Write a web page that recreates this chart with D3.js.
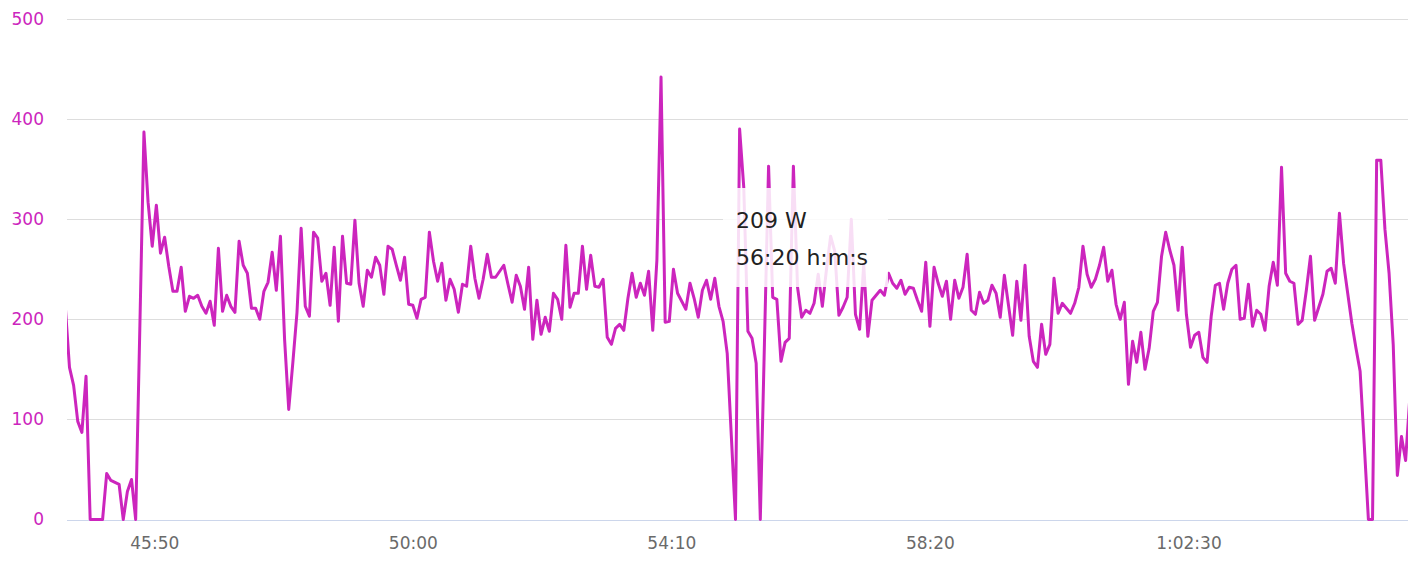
<!DOCTYPE html>
<html>
<head>
<meta charset="utf-8">
<script src="https://cdn.jsdelivr.net/npm/d3@7/dist/d3.min.js"></script>
<style>
  html, body { margin: 0; padding: 0; background: #ffffff; }
  svg { display: block; }
</style>
</head>
<body>
<div id="chart"></div>
<script>
// ---- data ----
const startSeconds = 2664;      // time of first sample (s)
const stepSeconds = 4;          // sample interval (s)
const powerWatts = [
  212, 152, 134, 98, 87, 143, 0, 0, 0, 0,
  46, 39, 37, 35, 0, 28, 40, 0, 190, 387,
  317, 273, 314, 266, 282, 253, 228, 228, 252, 208,
  223, 221, 224, 213, 206, 218, 194, 271, 208, 224,
  213, 207, 278, 254, 246, 211, 211, 200, 228, 237,
  267, 229, 283, 180, 110, 157, 207, 291, 213, 203,
  287, 281, 238, 246, 214, 272, 198, 283, 236, 235,
  299, 236, 213, 249, 242, 262, 254, 225, 273, 270,
  254, 239, 262, 215, 214, 201, 220, 222, 287, 258,
  238, 256, 219, 240, 230, 207, 235, 233, 273, 241,
  221, 240, 265, 242, 242, 248, 254, 235, 217, 244,
  233, 210, 252, 180, 219, 185, 202, 188, 226, 220,
  200, 274, 212, 226, 226, 273, 230, 264, 233, 232,
  240, 182, 175, 191, 195, 189, 221, 246, 222, 236,
  224, 248, 189, 259, 442, 197, 198, 250, 226, 218,
  210, 236, 221, 202, 229, 239, 220, 241, 213, 198,
  166, 83, 0, 390, 332, 188, 181, 156, 0, 176,
  353, 222, 220, 158, 177, 181, 353, 232, 202, 209,
  206, 216, 245, 213, 250, 283, 268, 204, 212, 222,
  300, 205, 190, 255, 183, 219, 224, 229, 224, 246,
  236, 231, 239, 225, 232, 231, 219, 208, 257, 193,
  252, 236, 223, 238, 200, 239, 221, 232, 265, 209,
  205, 227, 216, 219, 234, 226, 202, 244, 214, 184,
  238, 199, 254, 183, 158, 152, 195, 165, 175, 241,
  206, 216, 211, 206, 216, 232, 273, 245, 232, 240,
  254, 272, 238, 249, 215, 200, 217, 135, 178, 157,
  187, 150, 171, 208, 217, 263, 287, 269, 254, 209,
  272, 205, 172, 184, 187, 162, 157, 203, 234, 236,
  210, 236, 250, 254, 200, 201, 235, 193, 209, 205,
  189, 233, 257, 234, 352, 246, 238, 236, 195, 199,
  229, 263, 199, 212, 225, 248, 251, 236, 306, 256,
  226, 196, 171, 148, 75, 0, 0, 359, 359, 290,
  246, 175, 44, 83, 59, 121
];
const xTickSeconds = [2750, 3000, 3250, 3500, 3750];
const xTickLabels = ["45:50", "50:00", "54:10", "58:20", "1:02:30"];
const yTickValues = [0, 100, 200, 300, 400, 500];
const hoverSeconds = 3380;      // point shown in tooltip
const unitLabel = "W";
const timeUnitLabel = "h:m:s";

// ---- layout ----
const W = 1408, H = 566;
const plotLeft = 67, plotRight = 1408, plotTop = 19, plotBottom = 519.5;
const lineColor = "#cc25bd";
const fontFamily = "'DejaVu Sans', Verdana, sans-serif";

const points = powerWatts.map((v, i) => ({ t: startSeconds + i * stepSeconds, v }));

const x = d3.scaleLinear().domain([2665.6, 3962.3]).range([plotLeft, plotRight]);
const y = d3.scaleLinear().domain([0, 500]).range([plotBottom, plotTop]);

const svg = d3.select("#chart").append("svg")
  .attr("width", W).attr("height", H)
  .attr("viewBox", `0 0 ${W} ${H}`);

// grid lines
const yAxis = d3.axisLeft(y).tickValues(yTickValues).tickSize(-(plotRight - plotLeft)).tickPadding(23);
const gy = svg.append("g").attr("transform", `translate(${plotLeft},0)`).call(yAxis);
gy.select(".domain").remove();
gy.selectAll(".tick line")
  .attr("stroke", d => d === 0 ? "#ccd6eb" : "#dddddd")
  .attr("stroke-width", 1)
  .attr("shape-rendering", "crispEdges");
gy.selectAll(".tick text")
  .attr("fill", lineColor)
  .attr("font-family", fontFamily)
  .attr("font-size", "17px");

// x axis labels
const xAxis = d3.axisBottom(x).tickValues(xTickSeconds)
  .tickFormat((d, i) => xTickLabels[i]).tickSize(0).tickPadding(17);
const gx = svg.append("g").attr("transform", `translate(0,${plotBottom})`).call(xAxis);
gx.select(".domain").remove();
gx.selectAll(".tick text")
  .attr("fill", "#6a6a6a")
  .attr("font-family", fontFamily)
  .attr("font-size", "17px");

// clip
svg.append("clipPath").attr("id", "plotClip")
  .append("rect").attr("x", plotLeft).attr("y", 0)
  .attr("width", plotRight - plotLeft).attr("height", plotBottom + 3);

const line = d3.line().x(d => x(d.t)).y(d => y(d.v));
svg.append("path")
  .datum(points)
  .attr("clip-path", "url(#plotClip)")
  .attr("fill", "none")
  .attr("stroke", lineColor)
  .attr("stroke-width", 3)
  .attr("stroke-linejoin", "round")
  .attr("stroke-linecap", "round")
  .attr("d", line);

// tooltip
const hp = points.find(p => p.t === hoverSeconds);
function fmtTime(s) {
  const h = Math.floor(s / 3600), m = Math.floor((s % 3600) / 60), sec = s % 60;
  const pad = n => String(n).padStart(2, "0");
  return h > 0 ? `${h}:${pad(m)}:${pad(sec)}` : `${m}:${pad(sec)}`;
}
const tip = svg.append("g");
tip.append("rect")
  .attr("x", 723).attr("y", 188).attr("width", 165).attr("height", 99)
  .attr("fill", "#ffffff").attr("fill-opacity", 0.85);
tip.append("text")
  .attr("x", 736).attr("y", 227.5)
  .attr("font-family", fontFamily).attr("font-size", "22px").attr("fill", "#222")
  .text(`${hp.v} ${unitLabel}`);
tip.append("text")
  .attr("x", 736).attr("y", 264.5)
  .attr("font-family", fontFamily).attr("font-size", "22px").attr("fill", "#222")
  .text(`${fmtTime(hp.t)} ${timeUnitLabel}`);
</script>
</body>
</html>
